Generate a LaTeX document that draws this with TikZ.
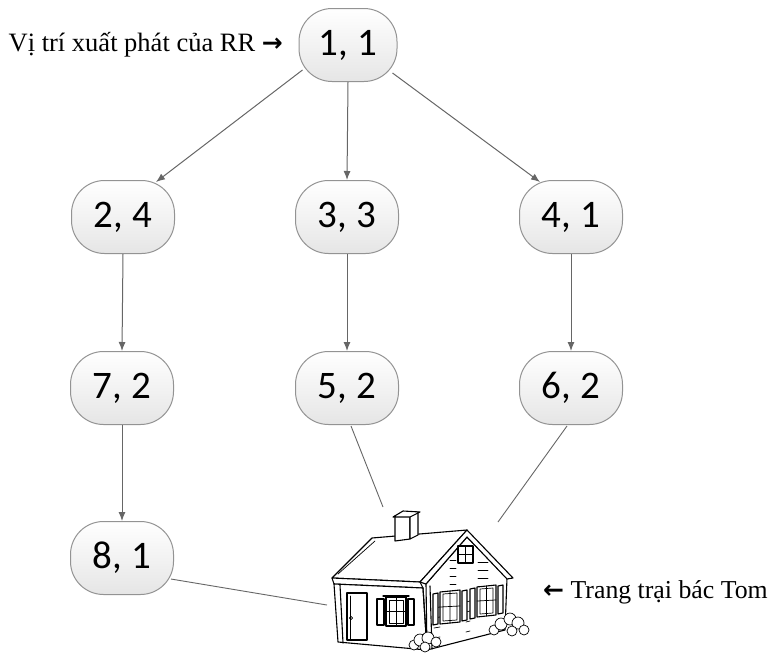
\documentclass[tikz,border=0pt]{standalone}
\usepackage{fontspec}
\setmainfont{Liberation Serif}
\newfontfamily\numfont{Carlito}
\newfontfamily\arrowfont{DejaVu Sans}
\usetikzlibrary{arrows.meta,shadings}
\definecolor{boxline}{HTML}{939393}
\definecolor{conn}{HTML}{666666}
\tikzset{
  state/.style={draw=boxline, line width=1pt, rounded corners=33pt,
    top color=white, bottom color=black!10, minimum width=103pt,
    minimum height=73pt, inner sep=0pt, font=\numfont\fontsize{39}{44}\selectfont},
  conarrow/.style={draw=conn, line width=1pt, -{Latex[length=9pt,width=7pt]}},
  conline/.style={draw=conn, line width=0.9pt},
  label/.style={inner sep=0pt, font=\fontsize{26.5}{30}\selectfont},
  house/.style={line width=1.1pt, line join=round, line cap=round},
  thin/.style={line width=0.7pt}
}
\begin{document}
\begin{tikzpicture}[x=1pt,y=-1pt]
\useasboundingbox (0,0) rectangle (779,653);

% nodes
\node[state, minimum width=98pt] (n11) at (348,45) {1, 1};
\node[state] (n24) at (123,217) {2, 4};
\node[state] (n33) at (347,217) {3, 3};
\node[state] (n41) at (571,217) {4, 1};
\node[state] (n72) at (122,388) {7, 2};
\node[state] (n52) at (347,388) {5, 2};
\node[state] (n62) at (571,388) {6, 2};
\node[state] (n81) at (122,558) {8, 1};

\node[label, anchor=east] (start) at (283,45) {Vị trí xuất phát của RR {\arrowfont\fontsize{25}{30}\selectfont\textbf{→}}};
\node[label, anchor=west, font=\fontsize{25.8}{30}\selectfont] (farm) at (543,592) {{\arrowfont\fontsize{25}{30}\selectfont\textbf{←}} Trang trại bác Tom};

% connectors
\draw[conarrow] ([xshift=4pt,yshift=12pt]n11.south west) -- ([xshift=-19pt,yshift=-2pt]n24.north east);
\draw[conarrow] (n11.south) -- (n33.north);
\draw[conarrow] ([xshift=-5pt,yshift=9pt]n11.south east) -- ([xshift=21pt,yshift=-2pt]n41.north west);
\draw[conarrow] (n24.south) -- (n72.north);
\draw[conarrow] (n33.south) -- (n52.north);
\draw[conarrow] (n41.south) -- (n62.north);
\draw[conarrow] (n72.south) -- (n81.north);

\coordinate (h52) at (383,507);
\coordinate (h62) at (498,522);
\coordinate (h81) at (327,605);
\draw[conline] ([xshift=4pt,yshift=-1pt]n52.south) -- (h52);
\draw[conline] ([xshift=-4pt,yshift=-1pt]n62.south) -- (h62);
\draw[conline] ([xshift=-3pt,yshift=-21pt]n81.east) -- (h81);

% house
\begin{scope}[house]
  % roof front slope
  \draw[fill=white] (332,578) -- (372,538) -- (467,530) -- (420,582) -- cycle;
  \draw[thin] (338,574) -- (375,541);
  % fascia
  \draw[fill=white] (332,578) -- (420,582) -- (423,588) -- (334,584) -- cycle;
  % gable wall
  \draw[fill=white] (426,584) -- (467,537) -- (507,578) -- (505,630) -- (427,650) -- cycle;
  % gable trim
  \draw[fill=white] (467,530) -- (513,578) -- (507,579) -- (467,537) -- (426,584) -- (420,582) -- cycle;
  % front wall
  \draw[fill=white] (334,584) -- (423,588) -- (427,650) -- (338,642) -- cycle;
  \draw (340,585) -- (343,643);
  \draw (423,588) -- (427,650);
  \draw (430,586) -- (432,649);
  % siding lines on gable
  \foreach \yy in {560,568,576,584} {
    \draw[thin] (450,\yy) -- (456,\yy);
    \draw[thin] (478,\yy+2) -- (488,\yy+2);
  }
  \foreach \yy in {600,610,620,630} {
    \draw[thin] (434,\yy+8) -- (440,\yy+7);
    \draw[thin] (466,\yy+2) -- (470,\yy+1);
  }
  % chimney
  \draw[fill=white] (395,541) -- (395,516) -- (410,516) -- (410,539) -- cycle;
  \draw[fill=white] (410,516) -- (418,512) -- (418,535) -- (410,539) -- cycle;
  \draw[fill=white] (393,517) -- (410,517) -- (420,512) -- (403,511) -- cycle;
  % door
  \draw[fill=white] (347,593) rectangle (367,640);
  \draw[thin] (350,596) -- (350,640);
  \draw[thin] (351,618) circle (1.6);
  % front window with shutters
  \draw[fill=white] (377,599) rectangle (384,625);
  \draw[fill=white] (386,597) rectangle (406,626);
  \draw[thin] (396,597) -- (396,626) (386,611) -- (406,611) (389,600) rectangle (403,623);
  \draw[fill=white] (408,599) rectangle (414,625);
  \draw (383,596) -- (409,596);
  % gable windows
  \draw[fill=white] (433,594) -- (438,593) -- (438,624) -- (433,625) -- cycle;
  \draw[fill=white] (440,592) -- (460,590) -- (460,622) -- (440,624) -- cycle;
  \draw[thin] (450,591) -- (450,623) (440,607) -- (460,606) (443,594) -- (457,593) -- (457,620) -- (443,621) -- cycle;
  \draw[fill=white] (462,591) -- (467,590) -- (467,620) -- (462,621) -- cycle;
  \draw[fill=white] (470,589) -- (475,588) -- (475,618) -- (470,619) -- cycle;
  \draw[fill=white] (477,587) -- (496,585) -- (496,615) -- (477,617) -- cycle;
  \draw[thin] (486.5,586) -- (486.5,616) (477,601) -- (496,600) (480,589) -- (493,588) -- (493,613) -- (480,614) -- cycle;
  \draw[fill=white] (498,586) -- (503,585) -- (503,613) -- (498,614) -- cycle;
  % attic window
  \draw[fill=white] (458,546) rectangle (473,563);
  \draw[thin] (465.5,546) -- (465.5,563) (458,554.5) -- (473,554.5);
  % bushes
  \foreach \cx/\cy/\r in {414/645/5, 420/640/6, 428/638/6, 436/642/5, 425/647/5} {
    \draw[fill=white, thin] (\cx,\cy) circle (\r);
  }
  \foreach \cx/\cy/\r in {494/630/5, 501/624/6, 510/619/6, 518/623/6, 524/630/5, 512/631/5} {
    \draw[fill=white, thin] (\cx,\cy) circle (\r);
  }
\end{scope}
\end{tikzpicture}
\end{document}
